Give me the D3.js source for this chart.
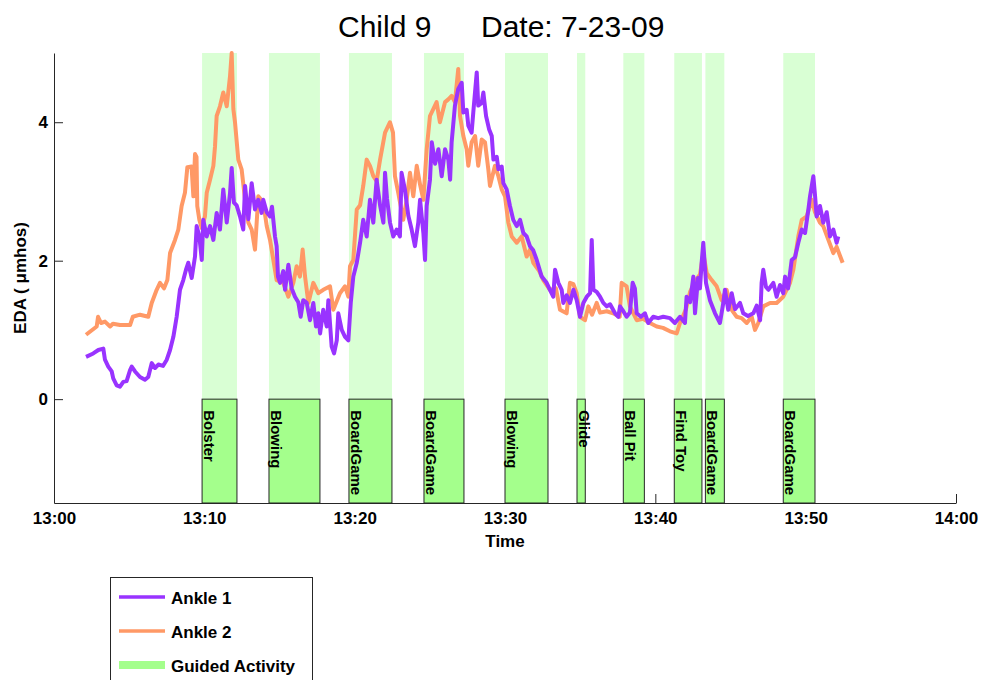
<!DOCTYPE html>
<html>
<head>
<meta charset="utf-8">
<script src="https://cdn.jsdelivr.net/npm/d3@7"></script>
<style>
  body { margin: 0; background: #fff; }
  svg { font-family: "Liberation Sans", Arial, sans-serif; }
</style>
</head>
<body>
<script>
// minutes after 13:00 and EDA values
let ankle1Min = [2.13,2.61,2.95,3.28,3.39,3.61,3.84,3.94,4.17,4.39,4.61,4.83,5.06,5.17,5.39,5.72,6.05,6.27,6.50,6.72,6.94,7.25,7.50,7.72,7.94,8.16,8.38,8.60,8.78,8.93,9.16,9.38,9.49,9.67,9.83,9.93,10.16,10.38,10.60,10.82,11.04,11.26,11.49,11.71,11.82,11.97,12.15,12.37,12.59,12.71,12.93,13.15,13.37,13.59,13.81,13.92,14.15,14.37,14.50,14.70,14.81,14.90,15.04,15.25,15.37,15.59,15.81,16.03,16.25,16.41,16.58,16.81,17.03,17.25,17.43,17.58,17.70,17.91,18.14,18.25,18.47,18.63,18.81,18.91,19.14,19.36,19.58,19.74,19.91,20.14,20.36,20.57,20.80,21.02,21.24,21.46,21.69,21.91,22.02,22.15,22.35,22.57,22.79,23.01,23.12,23.34,23.57,23.79,24.01,24.23,24.35,24.57,24.68,24.79,25.01,25.13,25.35,25.57,25.79,26.01,26.23,26.35,26.45,26.67,26.89,27.12,27.23,27.45,27.56,27.78,27.89,28.12,28.22,28.45,28.56,28.74,28.94,29.12,29.23,29.45,29.56,29.78,29.89,30.11,30.33,30.55,30.78,31.00,31.22,31.44,31.66,31.88,32.11,32.44,32.77,32.99,33.21,33.33,33.55,33.77,33.88,34.10,34.32,34.55,34.77,34.99,35.21,35.44,35.66,35.77,35.88,36.10,36.32,36.54,36.77,36.99,37.32,37.54,37.65,37.87,38.09,38.31,38.49,38.64,38.76,39.04,39.31,39.53,39.86,40.19,40.53,40.97,41.30,41.64,41.97,42.08,42.31,42.53,42.64,42.84,42.97,43.08,43.19,43.37,43.63,43.97,44.30,44.52,44.63,44.85,45.08,45.30,45.63,45.85,46.16,46.52,46.74,46.97,47.07,47.18,47.36,47.52,47.85,48.07,48.29,48.51,48.63,48.83,49.07,49.29,49.51,49.74,49.96,50.18,50.29,50.51,50.62,50.73,50.95,51.17,51.40,51.62,51.84,52.06,52.17];
let ankle1Eda = [0.61,0.66,0.71,0.73,0.57,0.47,0.40,0.30,0.20,0.18,0.25,0.26,0.42,0.47,0.40,0.32,0.28,0.32,0.52,0.45,0.50,0.48,0.57,0.71,0.90,1.19,1.58,1.72,1.87,1.97,1.75,2.06,2.50,2.35,2.01,2.59,2.35,2.50,2.30,2.69,2.45,3.03,2.55,2.98,3.34,2.84,2.80,2.64,2.45,3.08,2.60,3.12,2.74,2.88,2.69,2.88,2.70,2.64,2.78,2.35,2.21,1.77,1.68,1.85,1.58,1.94,1.60,1.48,1.40,1.19,1.43,1.39,1.14,1.39,1.05,1.24,0.95,1.29,1.05,1.43,0.76,0.66,0.85,1.24,1.00,0.90,0.85,1.39,1.77,1.97,2.26,2.59,2.35,2.88,2.55,3.17,2.80,2.55,3.27,2.90,2.55,2.35,2.45,2.35,3.27,3.03,2.65,2.45,2.21,2.55,2.88,2.40,2.01,2.79,3.17,3.71,3.40,3.61,3.22,3.61,3.46,3.17,3.71,4.24,4.48,4.57,4.14,4.18,3.95,3.85,4.14,4.72,4.24,4.28,4.43,4.09,3.90,3.80,3.46,3.50,3.32,3.36,3.12,3.03,2.79,2.59,2.50,2.59,2.40,2.35,2.21,2.15,2.01,1.77,1.68,1.58,1.48,1.87,1.68,1.58,1.39,1.50,1.39,1.58,1.43,1.19,1.39,1.48,1.53,2.30,1.58,1.55,1.48,1.39,1.34,1.37,1.24,1.19,1.34,1.27,1.19,1.25,1.68,1.60,1.24,1.19,1.24,1.10,1.19,1.17,1.19,1.17,1.10,1.19,1.10,1.48,1.40,1.77,1.24,1.75,1.60,1.97,2.26,1.68,1.43,1.24,1.10,1.39,1.58,1.29,1.53,1.30,1.39,1.24,1.20,1.24,1.35,1.14,1.68,1.87,1.62,1.58,1.68,1.48,1.65,1.53,1.77,1.60,2.01,2.05,2.26,2.45,2.40,2.74,2.93,3.22,2.95,2.64,2.79,2.55,2.70,2.35,2.45,2.26,2.35];

let ankle2Min = [2.13,2.84,2.93,3.13,3.39,3.73,3.92,4.39,5.06,5.24,5.72,6.27,6.50,6.83,7.05,7.32,7.54,7.72,8.05,8.27,8.49,8.71,8.87,9.15,9.27,9.38,9.48,9.53,9.67,9.83,10.04,10.16,10.38,10.60,10.71,10.82,11.04,11.26,11.49,11.71,11.82,11.93,12.04,12.26,12.48,12.71,12.93,13.15,13.37,13.59,13.92,14.15,14.37,14.59,14.81,15.25,15.59,15.92,16.14,16.36,16.54,16.70,16.92,17.25,17.58,17.91,18.36,18.58,19.02,19.36,19.58,19.69,19.91,20.14,20.36,20.57,20.80,21.02,21.24,21.46,21.69,22.02,22.24,22.35,22.55,22.68,22.90,23.23,23.46,23.68,23.90,24.13,24.35,24.57,24.79,25.01,25.45,25.67,26.01,26.23,26.45,26.67,26.89,27.01,27.23,27.45,27.56,27.78,28.01,28.22,28.45,28.67,28.89,29.00,29.33,29.56,29.78,30.00,30.22,30.45,30.78,31.11,31.44,31.66,31.88,32.28,32.55,32.99,33.39,33.66,34.10,34.32,34.55,34.77,34.99,35.32,35.54,35.79,36.10,36.32,36.77,37.19,37.63,37.76,38.09,38.31,38.76,39.18,39.64,40.09,40.51,40.97,41.42,41.64,42.04,42.31,42.64,42.97,43.19,43.42,43.75,44.08,44.41,44.74,45.08,45.41,45.74,46.08,46.41,46.63,46.85,47.18,47.63,48.07,48.51,48.96,49.18,49.51,49.74,50.07,50.40,50.62,50.95,51.17,51.51,51.84,52.06,52.46];
let ankle2Eda = [0.93,1.05,1.19,1.10,1.12,1.05,1.09,1.07,1.07,1.19,1.22,1.19,1.39,1.58,1.68,1.60,1.72,2.11,2.30,2.45,2.79,2.98,3.35,3.36,2.93,3.54,3.50,2.79,2.59,2.47,2.64,2.98,3.17,3.37,3.65,4.09,4.23,4.43,4.23,4.67,5.00,4.19,4.00,3.46,3.32,2.88,2.55,2.45,2.16,2.93,2.84,2.50,2.30,2.01,1.72,1.68,1.48,1.68,1.92,1.77,2.16,1.77,1.39,1.68,1.53,1.58,1.63,1.29,1.53,1.63,1.48,1.92,2.01,2.74,2.80,3.08,3.46,3.37,3.22,3.15,3.46,3.85,3.95,4.00,3.85,3.22,2.98,2.59,2.88,3.27,2.93,3.37,3.10,2.88,3.61,4.09,4.29,4.00,4.29,4.33,4.38,4.29,4.77,4.09,3.80,3.61,3.37,3.71,3.80,3.37,3.75,3.71,3.32,3.08,3.37,3.22,3.03,2.93,2.55,2.35,2.26,2.35,2.06,2.16,1.97,1.85,1.72,1.58,1.60,1.29,1.24,1.68,1.66,1.53,1.19,1.14,1.34,1.22,1.39,1.25,1.27,1.24,1.19,1.68,1.63,1.34,1.14,1.16,1.10,1.05,1.03,0.98,0.95,1.10,1.30,1.55,1.70,1.80,2.11,1.82,1.72,1.63,1.43,1.58,1.29,1.19,1.17,1.10,1.19,1.00,1.10,1.34,1.39,1.39,1.48,1.68,1.87,2.35,2.59,2.64,2.88,2.70,2.55,2.50,2.30,2.11,2.20,1.97];

let activityNames = ["Bolster","Blowing","BoardGame","BoardGame","Blowing","Glide","Ball Pit","Find Toy","BoardGame","BoardGame"];
let activityStart = [9.85,14.30,19.62,24.61,30.00,34.79,37.87,41.26,43.33,48.51];
let activityEnd   = [12.17,17.69,22.48,27.27,32.86,35.34,39.27,43.10,44.59,50.62];

let yTicks = [0,2,4];
let legendNames = ["Ankle 1","Ankle 2","Guided Activity"];

let purple = '#9933ff', orange = '#ff9966', band = '#d9ffd4', boxGreen = '#a4ff8c';

let w = 982, h = 680;
let padL = 54, padR = 956, padT = 53, padB = 503;

let t0 = new Date(2009, 6, 23, 13, 0);
let toDate = m => new Date(t0.getTime() + m*60000);

let svg = d3.select('body').append('svg')
    .attr('width', w)
    .attr('height', h);

let x = d3.scaleTime()
    .domain([t0, toDate(60)])
    .range([padL, padR]);

let y = d3.scaleLinear()
    .domain([-1.5, 5])
    .range([padB, padT]);

// light bands behind the curves
svg.selectAll('.band')
    .data(activityStart)
    .enter()
    .append('rect')
    .attr('x', (d,i) => x(toDate(d)))
    .attr('width', (d,i) => x(toDate(activityEnd[i])) - x(toDate(d)))
    .attr('y', y(5))
    .attr('height', y(0) - y(5))
    .attr('fill', band);

let line = d3.line()
    .x(d => x(toDate(d[0])))
    .y(d => y(d[1]));

let s2 = ankle2Min.map((m,i) => [m, ankle2Eda[i]]);
let s1 = ankle1Min.map((m,i) => [m, ankle1Eda[i]]);

svg.append('path')
    .attr('d', line(s2))
    .attr('fill', 'none')
    .attr('stroke', orange)
    .attr('stroke-width', 4)
    .attr('stroke-linejoin', 'round');

svg.append('path')
    .attr('d', line(s1))
    .attr('fill', 'none')
    .attr('stroke', purple)
    .attr('stroke-width', 4)
    .attr('stroke-linejoin', 'round');

// axes
let xAxis = svg.append('g')
    .attr('transform', `translate(0,${padB})`)
    .call(d3.axisBottom(x)
        .ticks(d3.timeMinute.every(10))
        .tickFormat(d3.timeFormat('%H:%M'))
        .tickSizeInner(-9)
        .tickSizeOuter(0)
        .tickPadding(9));

let yAxis = svg.append('g')
    .attr('transform', `translate(${padL},0)`)
    .call(d3.axisLeft(y)
        .tickValues(yTicks)
        .tickFormat(d3.format('d'))
        .tickSizeInner(-9)
        .tickSizeOuter(0)
        .tickPadding(6));

svg.selectAll('.tick text')
    .style('font-family', '"Liberation Sans", Arial, sans-serif')
    .style('font-size', '17px')
    .style('font-weight', 'bold')
    .attr('fill', '#000');
svg.selectAll('.domain, .tick line').attr('stroke', '#262626');

// activity boxes below zero
let acts = svg.selectAll('.act')
    .data(activityNames)
    .enter()
    .append('g');

acts.append('rect')
    .attr('x', (d,i) => x(toDate(activityStart[i])))
    .attr('width', (d,i) => x(toDate(activityEnd[i])) - x(toDate(activityStart[i])))
    .attr('y', y(0))
    .attr('height', y(-1.5) - y(0))
    .attr('fill', boxGreen)
    .attr('stroke', '#262626')
    .attr('stroke-width', 1);

acts.append('text')
    .text(d => d)
    .attr('transform', (d,i) => `translate(${x(toDate(activityStart[i])) + 2},${y(0) + 11}) rotate(90)`)
    .style('font-size', '15px')
    .style('font-weight', 'bold');

// titles and labels
svg.append('text')
    .text('Child 9')
    .attr('x', 338)
    .attr('y', 37)
    .style('font-size', '30px');

svg.append('text')
    .text('Date: 7-23-09')
    .attr('x', 481)
    .attr('y', 37)
    .style('font-size', '30px');

svg.append('text')
    .text('Time')
    .attr('x', (padL + padR)/2)
    .attr('y', 547)
    .style('text-anchor', 'middle')
    .style('font-size', '17px')
    .style('font-weight', 'bold');

svg.append('text')
    .text('EDA ( \u03bcmhos)')
    .attr('transform', `translate(26,${(padT + padB)/2}) rotate(-90)`)
    .style('text-anchor', 'middle')
    .style('font-size', '17px')
    .style('font-weight', 'bold');

// legend
let legend = svg.append('g');
legend.append('rect')
    .attr('x', 110.5)
    .attr('y', 577.5)
    .attr('width', 202)
    .attr('height', 130)
    .attr('fill', '#fff')
    .attr('stroke', '#262626');

let legendColors = [purple, orange, boxGreen];
let legendWidths = [3.5, 3.5, 8];
legendNames.forEach((name, i) => {
    let ly = 597 + i*34;
    legend.append('line')
        .attr('x1', 119).attr('x2', 165)
        .attr('y1', ly).attr('y2', ly)
        .attr('stroke', legendColors[i])
        .attr('stroke-width', legendWidths[i]);
    legend.append('text')
        .text(name)
        .attr('x', 171)
        .attr('y', ly + 7)
        .style('font-size', '17px')
        .style('font-weight', 'bold');
});
</script>
</body>
</html>
